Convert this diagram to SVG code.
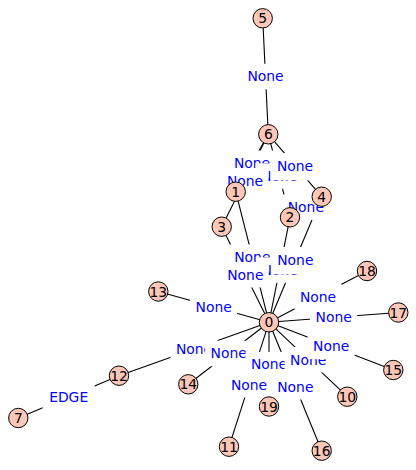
<svg xmlns="http://www.w3.org/2000/svg" width="416" height="470" viewBox="0 0 416 470">
<style>
.e{stroke:#000;stroke-width:1.1;fill:none}
.bx{fill:#fff;stroke:none}
.el{font-family:"DejaVu Sans","Liberation Sans",sans-serif;font-size:13.9px;fill:#0000ff;text-anchor:middle}
.nd circle{fill:#fec7b8;stroke:#000;stroke-width:1}
.nd text{font-family:"DejaVu Sans","Liberation Sans",sans-serif;font-size:13.9px;fill:#000;text-anchor:middle}
</style>
<rect width="416" height="470" fill="#fff"/>
<g id="connectors">
<g id="edge-lines">
<line class="e" x1="262.7" y1="18.3" x2="268.3" y2="134.3"/>
<line class="e" x1="268.3" y1="134.3" x2="235.7" y2="191.7"/>
<line class="e" x1="268.3" y1="134.3" x2="290" y2="217.3"/>
<line class="e" x1="268.3" y1="134.3" x2="221.7" y2="226.7"/>
<line class="e" x1="268.3" y1="134.3" x2="321.7" y2="196.7"/>
<line class="e" x1="290" y1="217.3" x2="321.7" y2="196.7"/>
<line class="e" x1="269" y1="322.3" x2="235.7" y2="191.7"/>
<line class="e" x1="269" y1="322.3" x2="290" y2="217.3"/>
<line class="e" x1="269" y1="322.3" x2="221.7" y2="226.7"/>
<line class="e" x1="269" y1="322.3" x2="321.7" y2="196.7"/>
<line class="e" x1="269" y1="322.3" x2="347.3" y2="396.7"/>
<line class="e" x1="269" y1="322.3" x2="229" y2="446.7"/>
<line class="e" x1="269" y1="322.3" x2="119" y2="375.7"/>
<line class="e" x1="269" y1="322.3" x2="158.3" y2="291.5"/>
<line class="e" x1="269" y1="322.3" x2="188.3" y2="384.3"/>
<line class="e" x1="269" y1="322.3" x2="393.3" y2="370"/>
<line class="e" x1="269" y1="322.3" x2="321.7" y2="450.7"/>
<line class="e" x1="269" y1="322.3" x2="398.3" y2="312.5"/>
<line class="e" x1="269" y1="322.3" x2="367" y2="271"/>
<line class="e" x1="269" y1="322.3" x2="269" y2="406.5"/>
<line class="e" x1="119" y1="375.7" x2="18.3" y2="418"/>
</g>
<g id="edge-labels">
<g id="l-5-6"><rect class="bx" x="242" y="63.8" width="47" height="25.5"/><text class="el" x="265.5" y="81.3">None</text></g>
<g id="l-1-6"><rect class="bx" x="228.5" y="150.5" width="47" height="25.5"/><text class="el" x="252" y="168">None</text></g>
<g id="l-2-6"><rect class="bx" x="255.6" y="163.3" width="47" height="25.5"/><text class="el" x="279.15" y="180.8">None</text></g>
<g id="l-3-6"><rect class="bx" x="221.5" y="168" width="47" height="25.5"/><text class="el" x="245" y="185.5">None</text></g>
<g id="l-4-6"><rect class="bx" x="271.5" y="153" width="47" height="27.3"/><text class="el" x="295" y="170.5">None</text></g>
<g id="l-2-4"><rect class="bx" x="282.3" y="194.5" width="47" height="25.5"/><text class="el" x="305.85" y="212">None</text></g>
<g id="l-0-1"><rect class="bx" x="228.8" y="244.5" width="47" height="25.5"/><text class="el" x="252.35" y="262">None</text></g>
<g id="l-0-2"><rect class="bx" x="256" y="257.3" width="47" height="25.5"/><text class="el" x="279.5" y="274.8">None</text></g>
<g id="l-0-3"><rect class="bx" x="221.8" y="262" width="47" height="25.5"/><text class="el" x="245.35" y="279.5">None</text></g>
<g id="l-0-4"><rect class="bx" x="271.8" y="247" width="47" height="27.3"/><text class="el" x="295.35" y="264.5">None</text></g>
<g id="l-0-13"><rect class="bx" x="190.1" y="294.4" width="47" height="25.5"/><text class="el" x="213.65" y="311.9">None</text></g>
<g id="l-0-18"><rect class="bx" x="294.5" y="284" width="47" height="25.5"/><text class="el" x="318" y="301.5">None</text></g>
<g id="l-0-17"><rect class="bx" x="310.1" y="304.9" width="47" height="25.5"/><text class="el" x="333.65" y="322.4">None</text></g>
<g id="l-0-12"><rect class="bx" x="170.5" y="336.5" width="47" height="25.5"/><text class="el" x="194" y="354">None</text></g>
<g id="l-0-14"><rect class="bx" x="205.1" y="340.8" width="47" height="25.5"/><text class="el" x="228.65" y="358.3">None</text></g>
<g id="l-0-19"><rect class="bx" x="245.5" y="351.9" width="47" height="25.5"/><text class="el" x="269" y="369.4">None</text></g>
<g id="l-0-10"><rect class="bx" x="284.6" y="347" width="47" height="25.5"/><text class="el" x="308.15" y="364.5">None</text></g>
<g id="l-0-15"><rect class="bx" x="307.6" y="333.65" width="47" height="25.5"/><text class="el" x="331.15" y="351.15">None</text></g>
<g id="l-0-11"><rect class="bx" x="225.5" y="372" width="47" height="25.5"/><text class="el" x="249" y="389.5">None</text></g>
<g id="l-0-16"><rect class="bx" x="271.8" y="374" width="47" height="25.5"/><text class="el" x="295.35" y="391.5">None</text></g>
<g id="l-7-12"><rect class="bx" x="42.65" y="384.35" width="52" height="25.5"/><text class="el" x="68.65" y="401.85">EDGE</text></g>
</g>
</g>
<g id="node-0" class="nd"><circle cx="269" cy="322.3" r="9.7"/><text x="269" y="327.3">0</text></g>
<g id="node-1" class="nd"><circle cx="235.7" cy="191.7" r="9.7"/><text x="235.7" y="196.7">1</text></g>
<g id="node-2" class="nd"><circle cx="290" cy="217.3" r="9.7"/><text x="290" y="222.3">2</text></g>
<g id="node-3" class="nd"><circle cx="221.7" cy="226.7" r="9.7"/><text x="221.7" y="231.7">3</text></g>
<g id="node-4" class="nd"><circle cx="321.7" cy="196.7" r="9.7"/><text x="321.7" y="201.7">4</text></g>
<g id="node-5" class="nd"><circle cx="262.7" cy="18.3" r="9.7"/><text x="262.7" y="23.3">5</text></g>
<g id="node-6" class="nd"><circle cx="268.3" cy="134.3" r="9.7"/><text x="268.3" y="139.3">6</text></g>
<g id="node-7" class="nd"><circle cx="18.3" cy="418" r="9.7"/><text x="18.3" y="423">7</text></g>
<g id="node-10" class="nd"><circle cx="347.3" cy="396.7" r="9.7"/><text x="347.3" y="401.7">10</text></g>
<g id="node-11" class="nd"><circle cx="229" cy="446.7" r="9.7"/><text x="229" y="451.7">11</text></g>
<g id="node-12" class="nd"><circle cx="119" cy="375.7" r="9.7"/><text x="119" y="380.7">12</text></g>
<g id="node-13" class="nd"><circle cx="158.3" cy="291.5" r="9.7"/><text x="158.3" y="296.5">13</text></g>
<g id="node-14" class="nd"><circle cx="188.3" cy="384.3" r="9.7"/><text x="188.3" y="389.3">14</text></g>
<g id="node-15" class="nd"><circle cx="393.3" cy="370" r="9.7"/><text x="393.3" y="375">15</text></g>
<g id="node-16" class="nd"><circle cx="321.7" cy="450.7" r="9.7"/><text x="321.7" y="455.7">16</text></g>
<g id="node-17" class="nd"><circle cx="398.3" cy="312.5" r="9.7"/><text x="398.3" y="317.5">17</text></g>
<g id="node-18" class="nd"><circle cx="367" cy="271" r="9.7"/><text x="367" y="276">18</text></g>
<g id="node-19" class="nd"><circle cx="269" cy="406.5" r="9.7"/><text x="269" y="411.5">19</text></g>
</svg>
